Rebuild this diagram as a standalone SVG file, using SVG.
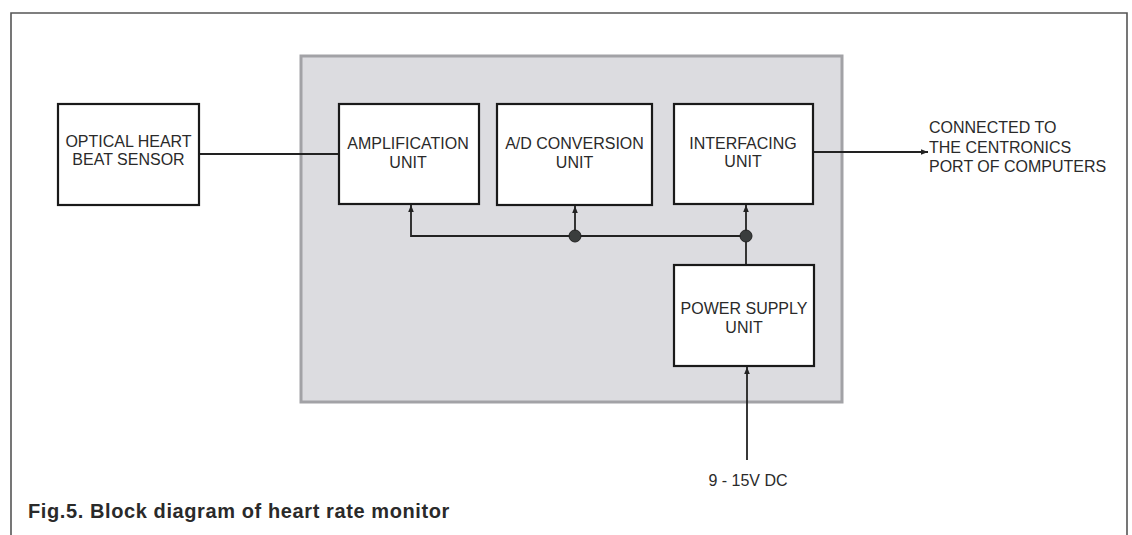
<svg xmlns="http://www.w3.org/2000/svg" width="1132" height="535" viewBox="0 0 1132 535">
<defs>
<style>
.frame{fill:none;stroke:#555;stroke-width:1.6}
.panel{fill:#dcdce0;stroke:#a2a2a6;stroke-width:3}
.box{fill:#fff;stroke:#1a1a1a;stroke-width:2.2}
.lbl{font-family:"Liberation Sans",Arial,sans-serif;font-size:16px;fill:#2a2a2a;text-anchor:middle}
.lbl-l{font-family:"Liberation Sans",Arial,sans-serif;font-size:16px;fill:#2a2a2a}
.cap{font-family:"Liberation Sans",Arial,sans-serif;font-size:20px;font-weight:bold;fill:#2a2a2a;letter-spacing:0.6px}
.wire{fill:none;stroke:#222;stroke-width:1.8}
.dot{fill:#3a3d3d;stroke:#222;stroke-width:1}
</style>
<marker id="arr" viewBox="0 0 10 10" refX="10" refY="5" markerWidth="7" markerHeight="7" markerUnits="userSpaceOnUse" orient="auto">
<path d="M0,1 L10,5 L0,9 Z" fill="#222"/>
</marker>
</defs>
<rect width="1132" height="535" fill="#fff"/>
<path class="frame" d="M11,535 V13 H1127 V535"/>
<rect id="panel" class="panel" x="301" y="56" width="541" height="346"/>

<g id="connectors">
<line class="wire" x1="199" y1="154" x2="339" y2="154"/>
<line class="wire" x1="813" y1="152" x2="928" y2="152" marker-end="url(#arr)"/>
<path class="wire" d="M746,236 H411 V205" marker-end="url(#arr)"/>
<line class="wire" x1="575" y1="236" x2="575" y2="206" marker-end="url(#arr)"/>
<line class="wire" x1="746" y1="264" x2="746" y2="205" marker-end="url(#arr)"/>
<line class="wire" x1="747" y1="460" x2="747" y2="367" marker-end="url(#arr)"/>
<circle class="dot" cx="575" cy="236" r="6"/>
<circle class="dot" cx="746" cy="236" r="6"/>
</g>

<g id="sensor">
<rect class="box" x="58" y="104" width="141" height="101"/>
<text class="lbl" x="128.5" y="147">OPTICAL HEART</text>
<text class="lbl" x="128.5" y="165">BEAT SENSOR</text>
</g>
<g id="amplification">
<rect class="box" x="339" y="104" width="140" height="100"/>
<text class="lbl" x="408" y="149">AMPLIFICATION</text>
<text class="lbl" x="408" y="167.5">UNIT</text>
</g>
<g id="adc">
<rect class="box" x="497" y="104" width="155" height="101"/>
<text class="lbl" x="574.5" y="149">A/D CONVERSION</text>
<text class="lbl" x="574.5" y="167.5">UNIT</text>
</g>
<g id="interfacing">
<rect class="box" x="674" y="104" width="139" height="100"/>
<text class="lbl" x="743" y="149">INTERFACING</text>
<text class="lbl" x="743" y="167">UNIT</text>
</g>
<g id="power">
<rect class="box" x="674" y="265" width="140" height="101"/>
<text class="lbl" x="744" y="314">POWER SUPPLY</text>
<text class="lbl" x="744" y="333">UNIT</text>
</g>
<g id="output-label">
<text class="lbl-l" x="929" y="133">CONNECTED TO</text>
<text class="lbl-l" x="929" y="152.5">THE CENTRONICS</text>
<text class="lbl-l" x="929" y="172">PORT OF COMPUTERS</text>
</g>
<g id="input-label">
<text class="lbl" x="748" y="486">9 - 15V DC</text>
</g>
<text class="cap" x="28" y="518">Fig.5. Block diagram of heart rate monitor</text>
</svg>
